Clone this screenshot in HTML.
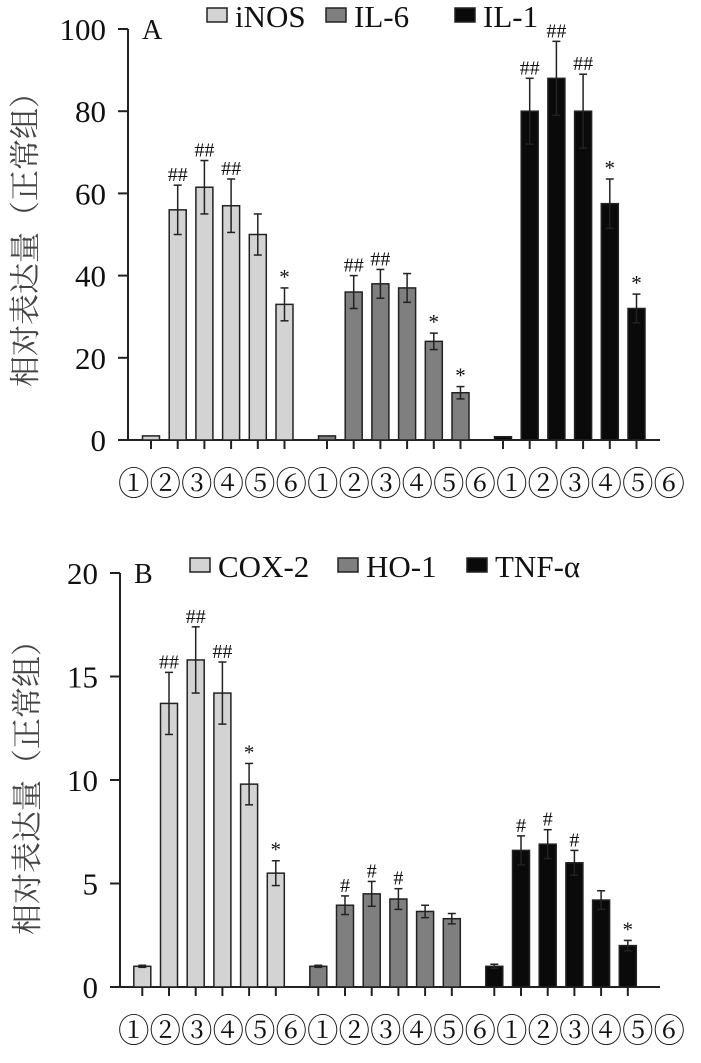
<!DOCTYPE html>
<html><head><meta charset="utf-8"><style>
body{margin:0;background:#fff}
svg text{font-family:"Liberation Serif","Noto Serif CJK SC",serif;fill:#111}
.zh{font-family:"Noto Serif CJK SC",serif;fill:#444}
</style></head><body>
<svg width="701" height="1058" viewBox="0 0 701 1058" xmlns="http://www.w3.org/2000/svg" id="s">
</svg>
<script>
const s=document.getElementById('s');let h='';
function chart(o){
 const {ax,y0,ytop,max,step,x0,gap,labY,legY,letter,leg,vals,errs,marks,ylabX,ylabY}=o;
 const k=(y0-ytop)/max, Y=v=>y0-v*k;
 h+=`<line x1="${ax}" y1="${ytop}" x2="${ax}" y2="${y0}" stroke="#222" stroke-width="2"/>`;
 h+=`<line x1="${ax-10}" y1="${y0}" x2="660" y2="${y0}" stroke="#222" stroke-width="2"/>`;
 for(let v=0;v<=max;v+=step){h+=`<line x1="${ax-10}" y1="${Y(v)}" x2="${ax}" y2="${Y(v)}" stroke="#222" stroke-width="2"/><text x="${ax-22}" y="${Y(v)+11}" font-size="31" text-anchor="end">${v}</text>`;}
 h+=`<text x="${ax+14}" y="${ytop+10}" font-size="28">${letter}</text>`;
 const cols=['#d3d3d3','#7f7f7f','#0a0a0a'];
 leg.forEach((l,i)=>{h+=`<rect x="${l[0]}" y="${legY-19}" width="20" height="14" fill="${cols[i]}" stroke="#222" stroke-width="1.5"/><text x="${l[0]+28}" y="${legY}" font-size="31">${l[1]}</text>`;});
 for(let g=0;g<3;g++)for(let i=0;i<6;i++){
  const cx=x0+g*gap+i*26.7,v=vals[g][i],e=errs[g][i];
  h+=`<rect x="${cx-8.5}" y="${Y(v)}" width="17" height="${v*k}" fill="${cols[g]}" stroke="#222" stroke-width="1.5"/>`;
  h+=`<line x1="${cx}" y1="${y0}" x2="${cx}" y2="${y0+9}" stroke="#222" stroke-width="2"/>`;
  if(e>0)h+=`<line x1="${cx}" y1="${Y(v+e)}" x2="${cx}" y2="${Y(v-e)}" stroke="#222" stroke-width="1.5"/><line x1="${cx-4}" y1="${Y(v+e)}" x2="${cx+4}" y2="${Y(v+e)}" stroke="#222" stroke-width="1.5"/><line x1="${cx-4}" y1="${Y(v-e)}" x2="${cx+4}" y2="${Y(v-e)}" stroke="#222" stroke-width="1.5"/>`;
  const m=marks[g][i];if(m)h+=`<text x="${cx}" y="${Y(v+e)-4}" font-size="${m=='*'?21:20}" text-anchor="middle">${m}</text>`;
 }
 h+=`<text x="118" y="${labY}" font-size="33" textLength="567" lengthAdjust="spacingAndGlyphs">①②③④⑤⑥①②③④⑤⑥①②③④⑤⑥</text>`;
 h+=`<text class="zh" transform="translate(${ylabX},${ylabY}) rotate(-90)" font-size="31" text-anchor="middle">相对表达量（正常组）</text>`;
}
chart({ax:128,y0:440,ytop:29,max:100,step:20,x0:151,gap:176,labY:495,legY:27,letter:'A',
 leg:[[207,'iNOS'],[326,'IL-6'],[455,'IL-1']],
 vals:[[1,56,61.5,57,50,33],[1,36,38,37,24,11.5],[0.8,80,88,80,57.5,32]],
 errs:[[0,6,6.5,6.5,5,4],[0,4,3.5,3.5,2,1.5],[0,8,9,9,6,3.5]],
 marks:[['','##','##','##','','*'],['','##','##','','*','*'],['','##','##','##','*','*']],
 ylabX:36,ylabY:232});
chart({ax:120,y0:987,ytop:573,max:20,step:5,x0:142.3,gap:176,labY:1042,legY:577,letter:'B',
 leg:[[190,'COX-2'],[338,'HO-1'],[467,'TNF-α']],
 vals:[[1,13.7,15.8,14.2,9.8,5.5],[1,3.95,4.5,4.25,3.65,3.3],[1,6.6,6.9,6,4.2,2]],
 errs:[[0.05,1.5,1.6,1.5,1,0.6],[0.05,0.45,0.6,0.5,0.3,0.25],[0.1,0.7,0.7,0.6,0.45,0.25]],
 marks:[['','##','##','##','*','*'],['','#','#','#','',''],['','#','#','#','','*']],
 ylabX:38,ylabY:780});
s.innerHTML=h;
</script>
</body></html>
